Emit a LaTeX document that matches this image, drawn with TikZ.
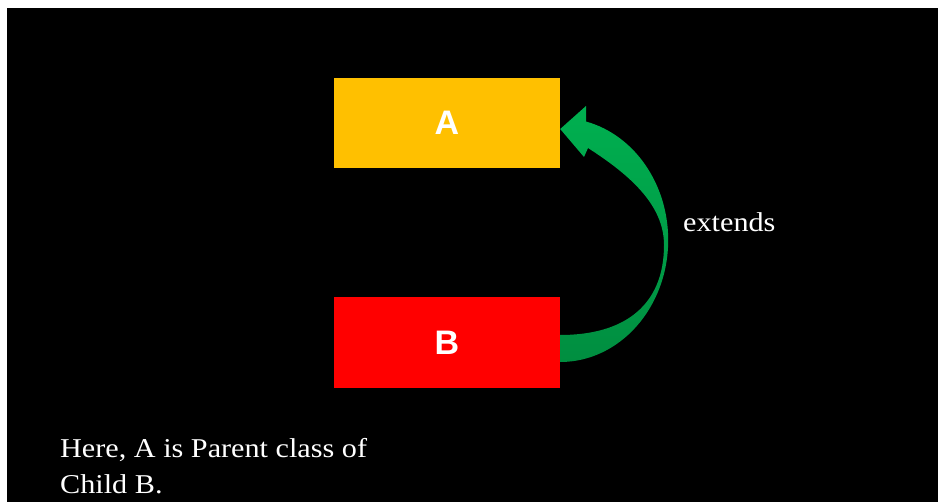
\documentclass[tikz,border=0pt]{standalone}
\usepackage{fontspec}
\setmainfont{Liberation Serif}[FakeStretch=1.11]
\newfontfamily\boxfont{Liberation Sans}
\usetikzlibrary{calc}
\definecolor{gold}{HTML}{FFC000}
\definecolor{brightred}{HTML}{FF0000}
\definecolor{arrowtop}{HTML}{00B050}
\definecolor{arrowbot}{HTML}{008E40}
\tikzset{
  classbox/.style={minimum width=226pt, minimum height=90pt, inner sep=0pt,
    text=white, font=\boxfont\bfseries\fontsize{34}{34}\selectfont},
  caption/.style={text=white, inner sep=0pt, font=\fontsize{27.2}{36}\selectfont},
  bendarrow/.style={top color=arrowtop, bottom color=arrowbot, draw=none}
}
\begin{document}
\begin{tikzpicture}[x=1pt,y=-1pt]
  % page: thin white frame with a black slide
  \fill[white] (0,0) rectangle (939,502);
  \fill[black] (7,8) rectangle (938,502);
  \useasboundingbox (0,0) rectangle (939,502);

  % classes
  \node[classbox, fill=gold] (A) at (447,123) {A};
  \node[classbox, fill=brightred] (B) at (447,342.5) {B};

  % curved block arrow from B back up to A
  \coordinate (tip) at ($(A.east)+(0,6)$);
  \coordinate (outerstart) at ($(B.east)+(0,19.5)$);
  \coordinate (innerend) at ($(B.east)+(0,-7.5)$);
  \fill[bendarrow]
    (outerstart) arc[start angle=90, end angle=-76.07, x radius=108, y radius=122]
    -- (586,106) -- (tip) -- (584,157) -- (588,148)
    .. controls (630,175) and (664,205) .. (664,245)
    .. controls (664,305) and (625,335) .. (innerend)
    -- cycle;

  \node[caption, anchor=base west] (ext) at (683,232) {extends};

  \node[caption, anchor=base west, align=left] (note) at (60,493)
    {Here, A is Parent class of\\Child B.};
\end{tikzpicture}
\end{document}
